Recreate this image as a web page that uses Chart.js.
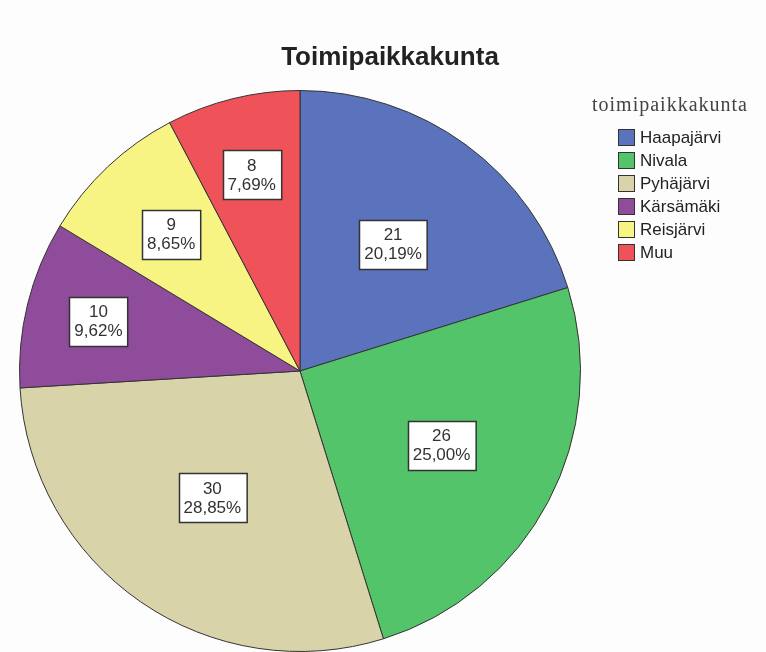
<!DOCTYPE html>
<html>
<head>
<meta charset="utf-8">
<script src="https://cdn.jsdelivr.net/npm/chart.js@4"></script>
<style>
  html, body { margin: 0; padding: 0; background: #fdfdfd; overflow: hidden; }
  canvas { display: block; }
</style>
</head>
<body>
<canvas id="pie" width="766" height="652"></canvas>
<script>
  const categories = ["Haapajärvi", "Nivala", "Pyhäjärvi", "Kärsämäki", "Reisjärvi", "Muu"];
  const counts = [21, 26, 30, 10, 9, 8];
  const sliceColors = ["#5b73bd", "#54c46a", "#d9d3a9", "#8e4c9b", "#f8f483", "#ef5258"];
  // how far out (share of radius) each label box sits
  const labelRadius = [0.56, 0.57, 0.55, 0.74, 0.67, 0.72];

  const total = counts.reduce((a, b) => a + b, 0);
  const pctText = (v) => (v / total * 100).toFixed(2).replace(".", ",") + "%";

  const titlePlugin = {
    id: "titleAndLegend",
    afterDraw(chart) {
      const ctx = chart.ctx;
      ctx.save();
      ctx.fillStyle = "#222";
      ctx.font = "bold 26px 'Liberation Sans', Arial, sans-serif";
      ctx.textAlign = "center";
      ctx.textBaseline = "alphabetic";
      ctx.fillText("Toimipaikkakunta", 390, 65);

      ctx.fillStyle = "#444";
      ctx.font = "20px 'Liberation Serif', serif";
      ctx.textAlign = "left";
      ctx.letterSpacing = "1px";
      ctx.fillText("toimipaikkakunta", 592, 111);
      ctx.letterSpacing = "0px";

      ctx.font = "17px 'Liberation Sans', Arial, sans-serif";
      ctx.textBaseline = "middle";
      categories.forEach((name, i) => {
        const y = 137 + i * 23;
        ctx.fillStyle = sliceColors[i];
        ctx.fillRect(618, y - 8, 17, 17);
        ctx.strokeStyle = "#333";
        ctx.lineWidth = 1;
        ctx.strokeRect(618.5, y - 7.5, 16, 16);
        ctx.fillStyle = "#222";
        ctx.fillText(name, 640, y + 1);
      });
      ctx.restore();
    },
  };

  const boxLabels = {
    id: "boxLabels",
    afterDatasetsDraw(chart) {
      const ctx = chart.ctx;
      const meta = chart.getDatasetMeta(0);
      ctx.save();
      ctx.font = "17px 'Liberation Sans', Arial, sans-serif";
      ctx.textAlign = "center";
      ctx.textBaseline = "middle";
      meta.data.forEach((arc, i) => {
        const p = arc.getProps(["x", "y", "startAngle", "endAngle", "outerRadius"], true);
        const mid = (p.startAngle + p.endAngle) / 2;
        const r = p.outerRadius * labelRadius[i];
        const cx = p.x + Math.cos(mid) * r;
        const cy = p.y + Math.sin(mid) * r;
        const l1 = String(counts[i]);
        const l2 = pctText(counts[i]);
        const w = Math.max(ctx.measureText(l1).width, ctx.measureText(l2).width) + 10;
        const h = 49;
        const bx = Math.round(cx - w / 2) + 0.5;
        const by = Math.round(cy - h / 2) + 0.5;
        ctx.fillStyle = "#ffffff";
        ctx.fillRect(bx, by, w, h);
        ctx.strokeStyle = "#333";
        ctx.lineWidth = 1.5;
        ctx.strokeRect(bx, by, w, h);
        ctx.fillStyle = "#333";
        ctx.fillText(l1, cx, cy - 9);
        ctx.fillText(l2, cx, cy + 10);
      });
      ctx.restore();
    },
  };

  new Chart(document.getElementById("pie"), {
    type: "pie",
    data: {
      labels: categories,
      datasets: [
        {
          data: counts,
          backgroundColor: sliceColors,
          borderColor: "#333",
          borderWidth: 1,
        },
      ],
    },
    options: {
      responsive: false,
      animation: false,
      layout: { padding: { left: 19, right: 185, top: 90, bottom: 0 } },
      plugins: {
        legend: { display: false },
        title: { display: false },
        tooltip: { enabled: false },
      },
    },
    plugins: [boxLabels, titlePlugin],
  });
</script>
</body>
</html>
